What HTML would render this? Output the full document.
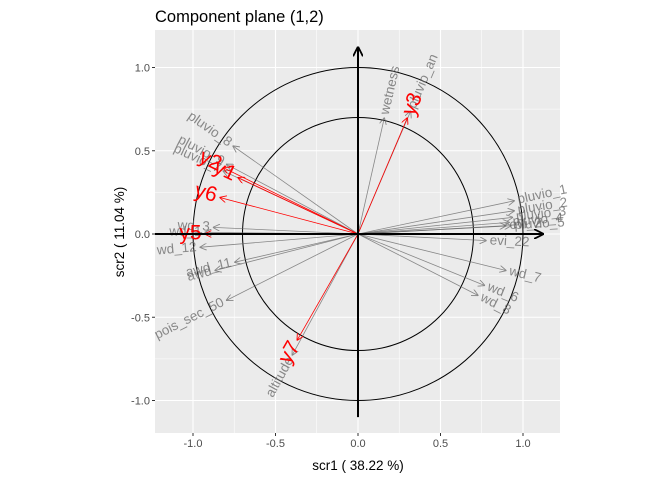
<!DOCTYPE html>
<html><head><meta charset="utf-8"><style>
body{margin:0;background:#fff;font-family:"Liberation Sans",sans-serif;}
</style></head><body>
<svg id="c" width="672" height="480" xmlns="http://www.w3.org/2000/svg">
<defs>
<marker id="ag" viewBox="0 0 10 10" refX="10" refY="5" markerWidth="7" markerHeight="7" orient="auto-start-reverse" markerUnits="userSpaceOnUse"><path d="M0,0 L10,5 L0,10" fill="none" stroke="#666" stroke-width="1.3"/></marker>
<marker id="ar" viewBox="0 0 10 10" refX="10" refY="5" markerWidth="7" markerHeight="7" orient="auto-start-reverse" markerUnits="userSpaceOnUse"><path d="M0,0 L10,5 L0,10" fill="none" stroke="#f00" stroke-width="1.3"/></marker>
<marker id="ak" viewBox="0 0 10 10" refX="9" refY="5" markerWidth="10" markerHeight="10" orient="auto" markerUnits="userSpaceOnUse"><path d="M0,0 L10,5 L0,10" fill="none" stroke="#000" stroke-width="1.8"/></marker>
</defs>
</svg>
<script>
const varNames=["pluvio_8","pluvio_9","pluvio_7","wetness","pluvio_an","pluvio_1","pluvio_2","pluvio_3","pluvio_4","pluvio_5","evi_2","evi_22","wd_7","wd_6","wd_8","wd_3","wd_1","wd_12","awd_11","awd","pois_sec_50","altitude"];
const varX=[-0.76,-0.80,-0.82,0.16,0.32,0.95,0.95,0.94,0.92,0.93,0.90,0.78,0.90,0.77,0.73,-0.88,-0.93,-0.96,-0.75,-0.87,-0.80,-0.40];
const varY=[0.53,0.42,0.38,0.70,0.74,0.20,0.14,0.10,0.07,0.05,0.05,-0.04,-0.22,-0.31,-0.37,0.04,0.01,-0.08,-0.17,-0.22,-0.40,-0.73];
const yNames=["y1","y2","y3","y5","y6","y7"];
const yX=[-0.73,-0.82,0.30,-0.93,-0.84,-0.37];
const yY=[0.34,0.40,0.70,0.00,0.22,-0.64];
const xTicks=[-1.0,-0.5,0.0,0.5,1.0];
const yTicks=[-1.0,-0.5,0.0,0.5,1.0];
const xTickLabels=["-1.0","-0.5","0.0","0.5","1.0"];
const yTickLabels=["-1.0","-0.5","0.0","0.5","1.0"];

const NS="http://www.w3.org/2000/svg",svg=document.getElementById('c');
const L=155,R=560,T=30,B=433;
const sx=v=>358+165*v, sy=v=>234-166.5*v;
function el(t,a,p){const e=document.createElementNS(NS,t);for(const k in a)e.setAttribute(k,a[k]);(p||svg).appendChild(e);return e;}
const bg=el('rect',{x:L,y:T,width:R-L,height:B-T,fill:'#EBEBEB'});


for(let v=-1.25;v<=1.25;v+=0.25){const isMajor=Math.abs(v*2-Math.round(v*2))<1e-6;
 const w=isMajor?1.1:0.55;
 if(sx(v)>=L&&sx(v)<=R){const g=el('line',{x1:sx(v),x2:sx(v),y1:T,y2:B,stroke:'#fff','stroke-width':w});}
 if(sy(v)>=T&&sy(v)<=B){const g=el('line',{y1:sy(v),y2:sy(v),x1:L,x2:R,stroke:'#fff','stroke-width':w});}
}
[1,0.7].forEach(r=>{const c=el('ellipse',{cx:sx(0),cy:sy(0),rx:165*r,ry:166.5*r,fill:'none',stroke:'#000','stroke-width':1});

});
function arrowLabel(x,y,name,color,marker,size,op,nm){
 const ln=el('line',{x1:sx(0),y1:sy(0),x2:sx(x),y2:sy(y),stroke:color,'stroke-width':0.8,'marker-end':marker,opacity:op});
 
 
 const dx=sx(x)-sx(0),dy=sy(y)-sy(0);let ang=Math.atan2(dy,dx)*180/Math.PI;
 let anchor='start';if(x<0){ang+=180;anchor='end';}
 const tx=sx(x)+(dx/Math.hypot(dx,dy))*3,ty=sy(y)+(dy/Math.hypot(dx,dy))*3;
 const t=el('text',{x:tx,y:ty,'text-anchor':anchor,'dominant-baseline':'middle',fill:color,'font-size':size,opacity:op,transform:`rotate(${ang} ${tx} ${ty})`});
 t.textContent=name;
 
 
}
varNames.forEach((n,i)=>arrowLabel(varX[i],varY[i],n,'#666','url(#ag)',13.5,0.75,'var-'+n.replace(/_/g,'-')));
yNames.forEach((n,i)=>arrowLabel(yX[i],yY[i],n,'#f00','url(#ar)',21,1,'target-'+n));
const ax=el('line',{x1:L,y1:sy(0),x2:sx(1.12),y2:sy(0),stroke:'#000','stroke-width':2,'marker-end':'url(#ak)'});

const ay=el('line',{x1:sx(0),y1:sy(-1.1),x2:sx(0),y2:sy(1.12),stroke:'#000','stroke-width':2,'marker-end':'url(#ak)'});

xTicks.forEach((v,i)=>{el('line',{x1:sx(v),x2:sx(v),y1:B,y2:B+3,stroke:'#333'});
 const t=el('text',{x:sx(v),y:B+14,'text-anchor':'middle','font-size':11,fill:'#4d4d4d'});t.textContent=xTickLabels[i];
 });
yTicks.forEach((v,i)=>{el('line',{x1:L-3,x2:L,y1:sy(v),y2:sy(v),stroke:'#333'});
 const t=el('text',{x:L-5,y:sy(v)+4,'text-anchor':'end','font-size':11,fill:'#4d4d4d'});t.textContent=yTickLabels[i];
 });
const xt=el('text',{x:358,y:470,'text-anchor':'middle','font-size':13.5,fill:'#000'});xt.textContent='scr1 ( 38.22 %)';

const yt=el('text',{x:0,y:0,'text-anchor':'middle','font-size':13.5,fill:'#000',transform:'translate(124 232) rotate(-90)'});yt.textContent='scr2 ( 11.04 %)';

const ti=el('text',{x:155,y:22,'font-size':16.5,fill:'#000'});ti.textContent='Component plane (1,2)';

</script>
</body></html>
